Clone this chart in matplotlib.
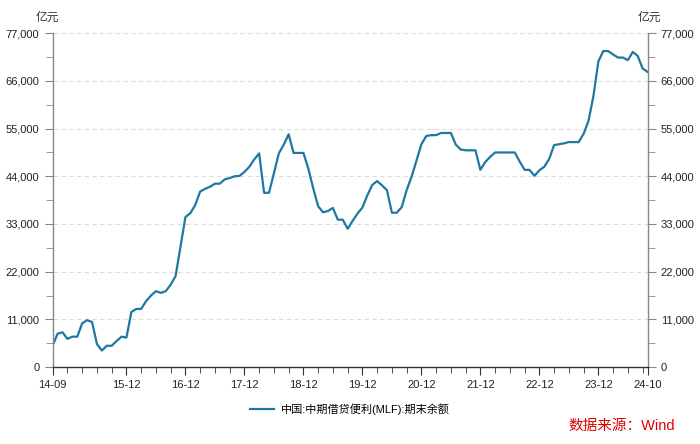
import matplotlib
matplotlib.use("Agg")
import matplotlib.pyplot as plt
import pandas as pd
from matplotlib.ticker import FuncFormatter, FixedLocator, MultipleLocator

plt.rcParams['font.family'] = ['Liberation Sans', 'Noto Sans CJK SC', 'DejaVu Sans']

months = pd.period_range("2014-09", "2024-10", freq="M")
month_labels = [p.strftime("%y-%m") for p in months]

# MLF outstanding balance, 亿元, in thousands
mlf_k = [
    5.0, 7.7, 8.0, 6.5, 7.0, 7.0, 10.1, 10.8, 10.4, 5.3,
    3.8, 4.9, 4.9, 6.0, 7.0, 6.8, 12.7, 13.4, 13.4, 15.2,
    16.5, 17.5, 17.1, 17.5, 19.0, 21.0, 27.8, 34.6, 35.5, 37.4,
    40.5, 41.1, 41.6, 42.3, 42.3, 43.3, 43.6, 44.0, 44.1, 45.0,
    46.2, 47.9, 49.3, 40.2, 40.2, 44.7, 49.3, 51.3, 53.7, 49.4,
    49.4, 49.4, 45.8, 41.2, 37.1, 35.7, 36.0, 36.7, 34.0, 34.0,
    31.9, 33.7, 35.4, 36.8, 39.6, 42.0, 42.9, 41.9, 40.8, 35.6,
    35.6, 36.9, 40.8, 43.9, 47.6, 51.4, 53.3, 53.5, 53.5, 54.0,
    54.0, 54.0, 51.3, 50.2, 50.0, 50.0, 50.0, 45.5, 47.3, 48.5,
    49.5, 49.5, 49.5, 49.5, 49.5, 47.4, 45.5, 45.5, 44.1, 45.4,
    46.2, 48.0, 51.2, 51.4, 51.6, 51.9, 51.9, 51.9, 53.8, 56.8,
    62.5, 70.5, 72.9, 72.9, 72.1, 71.4, 71.4, 70.8, 72.7, 71.8,
    68.9, 68.1,
]
mlf = [v * 1000 for v in mlf_k]

series_name = "中国:中期借贷便利(MLF):期末余额"
major_labels = ["14-09", "15-12", "16-12", "17-12", "18-12", "19-12",
                "20-12", "21-12", "22-12", "23-12", "24-10"]

x = list(range(len(mlf)))
major_pos = [month_labels.index(l) for l in major_labels]
minor_pos = [i for i in x if i % 3 == 0] + [len(x) - 1]

fig = plt.figure(figsize=(7.0, 4.44), dpi=100)
ax = fig.add_axes([0.0753, 0.1734, 0.8497, 0.7516])

line_color = "#1f77a4"
ax.plot(x, mlf, color=line_color, lw=1.6, label=series_name)

ax.set_xlim(0, len(x) - 1)
ax.set_ylim(0, 77000)
ax.yaxis.set_major_locator(MultipleLocator(11000))
ax.yaxis.set_minor_locator(MultipleLocator(5500))
ax.yaxis.set_major_formatter(FuncFormatter(lambda v, p: f"{int(v):,}"))
ax.xaxis.set_major_locator(FixedLocator(major_pos))
ax.xaxis.set_minor_locator(FixedLocator(minor_pos))
ax.set_xticklabels(major_labels)

ax.grid(axis='y', which='major', ls=(0, (4, 3)), color="#dddddd", lw=0.8)
ax.set_axisbelow(True)

ax.spines['top'].set_visible(False)
spine_col = "#888888"
ax.spines['left'].set_color(spine_col)
ax.spines['right'].set_color(spine_col)
ax.spines['bottom'].set_color("#333333")
for s in ['left', 'right', 'bottom']:
    ax.spines[s].set_linewidth(1.0)

ax.tick_params(axis='y', which='both', left=True, right=True, labelleft=True,
               labelright=True, direction='out', color=spine_col, labelsize=8,
               labelcolor="#222222")
ax.tick_params(axis='y', which='major', length=6)
ax.tick_params(axis='y', which='minor', length=5)
ax.tick_params(axis='x', which='both', direction='out', color="#333333",
               labelsize=8, labelcolor="#222222")
ax.tick_params(axis='x', which='major', length=6, pad=3)
ax.tick_params(axis='x', which='minor', length=4)

fig.text(0.067, 0.96, "亿元", fontsize=8.5, color="#333333", ha='center', va='center',
         family=['Noto Sans CJK SC', 'DejaVu Sans'])
fig.text(0.928, 0.96, "亿元", fontsize=8.5, color="#333333", ha='center', va='center',
         family=['Noto Sans CJK SC', 'DejaVu Sans'])

leg = fig.legend(loc='center', bbox_to_anchor=(0.5, 0.079), frameon=False,
                 handlelength=2.2, handletextpad=0.6,
                 prop={'family': ['Liberation Sans', 'Noto Sans CJK SC'], 'size': 8})

fig.text(0.965, 0.04, "数据来源：Wind", fontsize=10.5, color="#e00000", ha='right',
         va='center', family=['Liberation Sans', 'Noto Sans CJK SC', 'DejaVu Sans'])

fig.savefig("out.png", dpi=100)
